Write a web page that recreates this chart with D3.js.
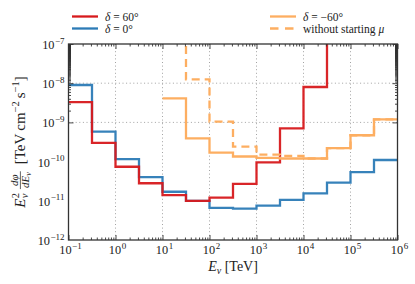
<!DOCTYPE html>
<html>
<head>
<meta charset="utf-8">
<script src="https://cdn.jsdelivr.net/npm/d3@7"></script>
<style>
  html, body { margin: 0; padding: 0; background: #fff; }
  svg { display: block; }
  text { font-family: "Liberation Serif", "DejaVu Serif", serif; fill: #222; }
</style>
</head>
<body>
<svg id="chart" width="415" height="284"></svg>
<script>
// ---------- data ----------
const binEdges = [0.1, 0.3162, 1, 3.162, 10, 31.62, 100, 316.2, 1000, 3162, 1e4, 31623, 1e5, 316228, 1e6];
const dec60   = [3.3e-9, 3.0e-10, 7.4e-11, 2.8e-11, 1.4e-11, 1.0e-11, 1.2e-11, 2.7e-11, 9.5e-11, 7.0e-10, 8.0e-9, 1e-5, 1e-5, 1e-5];
const dec0    = [9.0e-9, 5.8e-10, 1.15e-10, 4.0e-11, 1.7e-11, 1.0e-11, 6.6e-12, 6.3e-12, 7.5e-12, 1.05e-11, 1.55e-11, 2.9e-11, 5.4e-11, 1.1e-10];
const decM60  = [null, null, null, null, 4.1e-9, 3.9e-10, 1.7e-10, 1.35e-10, 1.25e-10, 1.2e-10, 1.2e-10, 2.2e-10, 4.7e-10, 1.2e-9];
const decM60noStart = [null, null, null, null, 1e-5, 1.25e-8, 1.05e-9, 2.4e-10, 1.5e-10, 1.4e-10, 1.2e-10, 2.2e-10, 4.7e-10, 1.2e-9];
const xTickExps = [-1, 0, 1, 2, 3, 4, 5, 6];
const yTickExps = [-12, -11, -10, -9, -8, -7];
const legendLabels = ["δ = 60°", "δ = 0°", "δ = −60°", "without starting μ"];

// ---------- setup ----------
const colors = { red: "#d7191c", blue: "#2c7bb6", orange: "#fdae61" };
const svg = d3.select("#chart");
const L = 68.5, R = 397.5, T = 44, B = 240;
const x = d3.scaleLog().domain([1e-1, 1e6]).range([L, R]);
const y = d3.scaleLog().domain([1e-12, 1e-7]).range([B, T]);

const allX = x.ticks(100), allY = y.ticks(100);
const isPow = v => Math.abs(Math.log10(v) - Math.round(Math.log10(v))) < 1e-9;
const majX = allX.filter(isPow), minX = allX.filter(v => !isPow(v));
const majY = allY.filter(isPow), minY = allY.filter(v => !isPow(v));

// grid
const grid = svg.append("g").attr("stroke", "#999").attr("stroke-width", 0.9).attr("stroke-dasharray", "1,2.6");
grid.selectAll(".gx").data(majX.filter(v => v > 1e-1 && v < 1e6)).join("line")
  .attr("x1", d => x(d)).attr("x2", d => x(d)).attr("y1", T).attr("y2", B);
grid.selectAll(".gy").data(majY.filter(v => v > 1e-12 && v < 1e-7)).join("line")
  .attr("y1", d => y(d)).attr("y2", d => y(d)).attr("x1", L).attr("x2", R);

// clip
svg.append("clipPath").attr("id", "clip").append("rect")
  .attr("x", L).attr("y", T).attr("width", R - L).attr("height", B - T);

// step series
function stepPoints(vals) {
  const pts = [];
  vals.forEach((v, i) => { pts.push([binEdges[i], v]); });
  const lastIdx = vals.length - 1;
  pts.push([binEdges[lastIdx + 1], vals[lastIdx]]);
  return pts;
}
const line = d3.line()
  .defined(d => d[1] != null)
  .x(d => x(d[0])).y(d => y(d[1]))
  .curve(d3.curveStepAfter);

const plot = svg.append("g").attr("clip-path", "url(#clip)").attr("fill", "none")
  .attr("stroke-width", 2.3).attr("stroke-linejoin", "miter");
plot.append("path").attr("d", line(stepPoints(dec0))).attr("stroke", colors.blue).attr("stroke-opacity", 0.95);
plot.append("path").attr("d", line(stepPoints(dec60))).attr("stroke", colors.red).attr("stroke-opacity", 0.95);
plot.append("path").attr("d", line(stepPoints(decM60noStart))).attr("stroke", colors.orange)
  .attr("stroke-dasharray", "8,5");
plot.append("path").attr("d", line(stepPoints(decM60))).attr("stroke", colors.orange);

// axes (inward ticks on all four sides)
function styleAxis(g) {
  g.select(".domain").remove();
  g.selectAll("line").attr("stroke", "#333").attr("stroke-width", 0.9);
}
svg.append("g").attr("transform", `translate(0,${B})`)
  .call(d3.axisBottom(x).tickValues(minX).tickSize(-2.5).tickFormat("")).call(styleAxis);
svg.append("g").attr("transform", `translate(0,${B})`)
  .call(d3.axisBottom(x).tickValues(majX).tickSize(-5).tickFormat("")).call(styleAxis);
svg.append("g").attr("transform", `translate(0,${T})`)
  .call(d3.axisTop(x).tickValues(minX).tickSize(-2.5).tickFormat("")).call(styleAxis);
svg.append("g").attr("transform", `translate(0,${T})`)
  .call(d3.axisTop(x).tickValues(majX).tickSize(-5).tickFormat("")).call(styleAxis);
svg.append("g").attr("transform", `translate(${L},0)`)
  .call(d3.axisLeft(y).tickValues(minY).tickSize(-2.5).tickFormat("")).call(styleAxis);
svg.append("g").attr("transform", `translate(${L},0)`)
  .call(d3.axisLeft(y).tickValues(majY).tickSize(-5).tickFormat("")).call(styleAxis);
svg.append("g").attr("transform", `translate(${R},0)`)
  .call(d3.axisRight(y).tickValues(minY).tickSize(-2.5).tickFormat("")).call(styleAxis);
svg.append("g").attr("transform", `translate(${R},0)`)
  .call(d3.axisRight(y).tickValues(majY).tickSize(-5).tickFormat("")).call(styleAxis);

// frame
svg.append("rect").attr("x", L).attr("y", T).attr("width", R - L).attr("height", B - T)
  .attr("fill", "none").attr("stroke", "#333").attr("stroke-width", 1.3);

// tick labels
const expStr = e => (e < 0 ? "−" + Math.abs(e) : String(e));
function powLabel(sel, e) {
  sel.append("tspan").text("10");
  sel.append("tspan").attr("font-size", 9).attr("dy", -5.5).attr("dx", 0.5).text(expStr(e));
}
svg.append("g").selectAll("text").data(xTickExps).join("text")
  .attr("x", d => x(Math.pow(10, d)) + 2).attr("y", B + 14).attr("font-size", 12.3)
  .attr("text-anchor", "middle").each(function(d) { powLabel(d3.select(this), d); });
svg.append("g").selectAll("text").data(yTickExps).join("text")
  .attr("x", L - 4).attr("y", d => y(Math.pow(10, d)) + 5).attr("font-size", 12.3)
  .attr("text-anchor", "end").each(function(d) { powLabel(d3.select(this), d); });

// x label
const xl = svg.append("text").attr("x", (L + R) / 2).attr("y", 271).attr("font-size", 14).attr("text-anchor", "middle");
xl.append("tspan").attr("font-style", "italic").text("E");
xl.append("tspan").attr("font-style", "italic").attr("font-size", 10).attr("dy", 2.8).text("ν");
xl.append("tspan").attr("dy", -2.8).text("  [TeV]");

// y label (rotated, laid out piece by piece)
const yl = svg.append("g").attr("transform", `translate(25,${(T + B) / 2}) rotate(-90)`);
const parts = yl.append("g");
let cx = 0;
const fs = 15, sfs = 10.5, ffs = 11;
// E_nu^2
let t = parts.append("text").attr("x", cx).attr("y", 0).attr("font-size", fs).attr("font-style", "italic").text("E");
cx += t.node().getComputedTextLength() + 0.3;
const sub = parts.append("text").attr("x", cx).attr("y", 3.2).attr("font-size", sfs).attr("font-style", "italic").text("ν");
const sup = parts.append("text").attr("x", cx).attr("y", -6.3).attr("font-size", sfs).text("2");
cx += Math.max(sub.node().getComputedTextLength(), sup.node().getComputedTextLength()) + 4;
// fraction
const num = parts.append("text").attr("y", -7).attr("font-size", ffs).attr("font-style", "italic").attr("text-anchor", "middle").text("dφ");
const den = parts.append("text").attr("y", 3.5).attr("font-size", ffs).attr("text-anchor", "middle");
den.append("tspan").attr("font-style", "italic").text("dE");
den.append("tspan").attr("font-style", "italic").attr("font-size", 8).attr("dy", 2).text("ν");
const fw = Math.max(num.node().getComputedTextLength(), den.node().getComputedTextLength()) + 2;
num.attr("x", cx + fw / 2); den.attr("x", cx + fw / 2);
parts.append("line").attr("x1", cx).attr("x2", cx + fw).attr("y1", -4.6).attr("y2", -4.6)
  .attr("stroke", "#222").attr("stroke-width", 0.7);
cx += fw + 7;
// units
const u = parts.append("text").attr("x", cx).attr("y", 0).attr("font-size", fs);
u.append("tspan").text("[TeV\u2009cm");
u.append("tspan").attr("font-size", sfs).attr("dy", -6).text("−2");
u.append("tspan").attr("dy", 6).text("\u2009s");
u.append("tspan").attr("font-size", sfs).attr("dy", -6).text("−1");
u.append("tspan").attr("dy", 6).text("]");
cx += u.node().getComputedTextLength();
parts.attr("transform", `translate(${-cx / 2},0)`);

// legend
const leg = [
  { lx: 72, ly: 16.5, c: colors.red, dash: null, label: legendLabels[0] },
  { lx: 72, ly: 28.5, c: colors.blue, dash: null, label: legendLabels[1] },
  { lx: 270, ly: 16.5, c: colors.orange, dash: null, label: legendLabels[2] },
  { lx: 270, ly: 28.5, c: colors.orange, dash: "8.5,6.5", label: legendLabels[3] }
];
const lg = svg.append("g").selectAll("g").data(leg).join("g");
lg.append("line").attr("x1", d => d.lx).attr("x2", d => d.lx + 26).attr("y1", d => d.ly).attr("y2", d => d.ly)
  .attr("stroke", d => d.c).attr("stroke-width", 2.3).attr("stroke-dasharray", d => d.dash);
lg.append("text").attr("x", d => d.lx + 33).attr("y", d => d.ly + 4).attr("font-size", 11.5)
  .each(function(d) {
    const s = d3.select(this);
    if (d.label.startsWith("δ")) {
      s.append("tspan").attr("font-style", "italic").text("δ");
      s.append("tspan").text(d.label.slice(1));
    } else {
      s.append("tspan").text(d.label.slice(0, -1));
      s.append("tspan").attr("font-style", "italic").text(d.label.slice(-1));
    }
  });
</script>
</body>
</html>
